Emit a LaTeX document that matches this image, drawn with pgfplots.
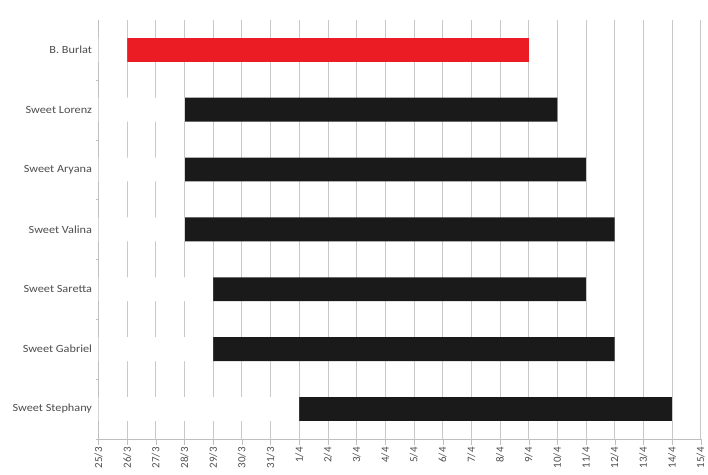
\documentclass[border=0pt]{standalone}
\usepackage{pgfplots}
\pgfplotsset{compat=1.18}
\usepackage{fontspec}
\setmainfont{Carlito}
\definecolor{barred}{HTML}{EC1C24}
\definecolor{barblack}{HTML}{1A1A1A}
\definecolor{txtgray}{HTML}{4D4D4D}
\definecolor{gridgray}{HTML}{C8C8C8}
\definecolor{axgray}{HTML}{BFBFBF}
\begin{document}
\begin{tikzpicture}
\begin{axis}[
  scale only axis,
  width=605pt, height=421pt,
  xbar stacked, bar width=24pt,
  xmin=0, xmax=21, ymin=-0.5, ymax=6.5,
  axis x line=bottom, axis y line=left,
  axis line style={axgray, -},
  xtick={0,...,21},
  xticklabels={25/3,26/3,27/3,28/3,29/3,30/3,31/3,1/4,2/4,3/4,4/4,5/4,6/4,7/4,8/4,9/4,10/4,11/4,12/4,13/4,14/4,15/4},
  x tick label style={rotate=90, anchor=east, font=\fontsize{11}{12}\selectfont, text=txtgray, xshift=1pt},
  ytick={0,...,6},
  yticklabels={Sweet Stephany,Sweet Gabriel,Sweet Saretta,Sweet Valina,Sweet Aryana,Sweet Lorenz,B. Burlat},
  y tick label style={font=\fontsize{11}{12}\selectfont\addfontfeature{FakeStretch=1.12}, text=txtgray, xshift=3pt},
  major y tick style={draw=none},
  minor ytick={-0.5,0.5,1.5,2.5,3.5,4.5,5.5},
  minor y tick style={axgray},
  minor tick length=3pt,
  x tick style={axgray},
  major tick length=6pt,
  tick align=outside,
  xmajorgrids, major x grid style={gridgray, line width=0.8pt},
  clip=false,
]
% start offsets (invisible white bars)
\addplot[fill=white, draw=none] coordinates {(7,0) (4,1) (4,2) (3,3) (3,4) (3,5) (1,6)};
% durations, black
\addplot[fill=barblack, draw=none] coordinates {(13,0) (14,1) (13,2) (15,3) (14,4) (13,5) (0,6)};
% duration, red
\addplot[fill=barred, draw=none] coordinates {(0,0) (0,1) (0,2) (0,3) (0,4) (0,5) (14,6)};
\end{axis}
\path (current axis.south west) ++(-99pt,-36pt) coordinate (bbA);
\path (current axis.north east) ++(4pt,20pt) coordinate (bbB);
\path (bbA) rectangle (bbB);
\end{tikzpicture}
\end{document}
